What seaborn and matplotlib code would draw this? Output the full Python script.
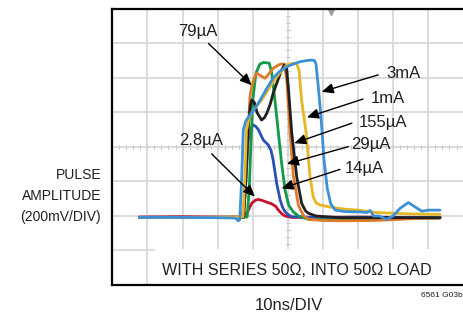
"""
Pulse response at several supply currents, drawn as a scope capture
(10 divisions wide, 8 high) with seaborn line plots.
"""

import matplotlib
matplotlib.use("Agg")
import matplotlib.pyplot as plt
from matplotlib.patches import Rectangle
import numpy as np
import pandas as pd
import seaborn as sns

# ---- data (scope divisions) ----
red_x = [0.77, 2.0, 3.0, 3.72, 3.85, 3.97, 4.08, 4.16, 4.27, 4.35, 4.54, 4.65, 4.73, 4.83, 4.92, 5.1, 6.0, 7.0, 8.0, 9.33]
red_y = [1.97, 1.98, 1.97, 1.97, 2.12, 2.37, 2.46, 2.48, 2.45, 2.42, 2.35, 2.28, 2.17, 2.06, 2.0, 1.96, 1.96, 1.97, 1.96, 1.96]

blue_x = [0.77, 2.0, 3.0, 3.7, 3.78, 3.87, 3.95, 4.01, 4.08, 4.16, 4.3, 4.44, 4.52, 4.58, 4.68, 4.78, 4.85, 4.92, 5.02, 5.1, 6.0, 7.0, 8.0, 9.33]
blue_y = [1.96, 1.96, 1.96, 1.96, 2.6, 4.2, 4.55, 4.64, 4.6, 4.5, 4.2, 4.06, 3.9, 3.62, 2.95, 2.46, 2.25, 2.12, 2.03, 1.98, 1.95, 1.96, 1.95, 1.96]

green_x = [0.77, 2.0, 3.0, 3.84, 3.9, 3.94, 4.0, 4.09, 4.2, 4.3, 4.47, 4.54, 4.63, 4.73, 4.82, 4.92, 5.02, 5.15, 5.3, 5.6, 6.5, 7.5, 8.5, 9.33]
green_y = [1.96, 1.96, 1.96, 1.97, 2.8, 3.91, 5.36, 6.14, 6.4, 6.45, 6.43, 6.14, 5.36, 4.40, 3.53, 2.75, 2.32, 2.12, 2.0, 1.9, 1.88, 1.9, 1.93, 1.94]

orange_x = [0.77, 2.0, 3.0, 3.74, 3.82, 3.92, 3.97, 4.04, 4.11, 4.2, 4.35, 4.47, 4.58, 4.7, 4.82, 4.9, 4.97, 5.05, 5.15, 5.3, 5.45, 5.6, 6.0, 6.5, 7.5, 8.5, 9.33]
orange_y = [1.96, 1.96, 1.96, 1.97, 3.5, 5.46, 5.75, 6.0, 6.14, 6.08, 5.99, 6.14, 6.28, 6.36, 6.41, 6.4, 5.9, 4.6, 3.2, 2.3, 2.0, 1.9, 1.87, 1.86, 1.87, 1.92, 1.94]

black_x = [0.77, 2.0, 3.0, 3.74, 3.8, 3.87, 3.93, 3.97, 4.04, 4.12, 4.25, 4.33, 4.4, 4.5, 4.58, 4.7, 4.82, 4.9, 4.96, 5.01, 5.11, 5.25, 5.39, 5.5, 5.58, 5.8, 6.5, 7.5, 8.5, 9.33]
black_y = [1.96, 1.96, 1.96, 1.96, 3.0, 4.59, 5.2, 5.36, 5.3, 5.0, 4.78, 4.85, 4.98, 5.25, 5.56, 5.9, 6.23, 6.38, 6.3, 5.75, 4.4, 3.14, 2.37, 2.15, 2.08, 2.0, 1.95, 1.95, 1.95, 1.95]

yellow_x = [0.77, 2.0, 3.0, 3.72, 3.77, 3.82, 3.9, 4.01, 4.12, 4.25, 4.4, 4.58, 4.75, 4.97, 5.1, 5.25, 5.32, 5.39, 5.52, 5.63, 5.72, 5.8, 5.91, 6.19, 6.6, 7.0, 7.5, 8.0, 8.5, 9.0, 9.33]
yellow_y = [1.96, 1.96, 1.96, 1.97, 3.0, 4.49, 4.85, 5.07, 5.2, 5.36, 5.6, 5.89, 6.12, 6.38, 6.42, 6.43, 6.2, 5.36, 4.40, 3.14, 2.56, 2.38, 2.32, 2.26, 2.2, 2.17, 2.1, 2.08, 2.06, 2.05, 2.05]

ltblue_x = [0.77, 2.0, 3.0, 3.5, 3.59, 3.63, 3.68, 3.73, 3.8, 3.92, 4.05, 4.21, 4.4, 4.58, 4.75, 4.97, 5.15, 5.34, 5.5, 5.68, 5.76, 5.8, 5.86, 5.94, 6.03, 6.12, 6.22, 6.35, 6.6, 6.9, 7.05, 7.25, 7.34, 7.44, 7.6, 7.81, 7.99, 8.19, 8.43, 8.61, 8.81, 9.0, 9.33]
ltblue_y = [1.96, 1.96, 1.95, 1.94, 1.86, 1.9, 3.0, 4.49, 4.75, 4.93, 5.1, 5.36, 5.7, 6.0, 6.18, 6.33, 6.4, 6.47, 6.5, 6.52, 6.5, 6.4, 5.8, 4.9, 3.6, 2.8, 2.35, 2.17, 2.13, 2.12, 2.12, 2.1, 2.16, 2.0, 2.0, 1.9, 2.0, 2.22, 2.39, 2.27, 2.14, 2.17, 2.17]

# draw order: first is at the bottom
traces = ["2.8µA", "14µA", "29µA", "79µA", "155µA", "1mA", "3mA"]
trace_x = [red_x, blue_x, green_x, orange_x, black_x, yellow_x, ltblue_x]
trace_y = [red_y, blue_y, green_y, orange_y, black_y, yellow_y, ltblue_y]
trace_colors = ["#c8102e", "#2a4fb5", "#109a4a", "#e07a28", "#231f20", "#e6b722", "#3d8fd8"]

# label text position, arrow tail, arrow head (divisions)
label_pos = {
    "79µA": (2.44, 7.36, 2.74, 7.0, 3.97, 5.79),
    "3mA": (8.28, 6.12, 7.57, 6.09, 5.96, 5.6),
    "1mA": (7.85, 5.42, 7.14, 5.39, 5.54, 4.86),
    "155µA": (7.71, 4.72, 6.82, 4.69, 5.18, 4.11),
    "29µA": (7.37, 4.06, 6.72, 4.01, 4.97, 3.51),
    "14µA": (7.17, 3.38, 6.48, 3.35, 4.82, 2.80),
    "2.8µA": (2.53, 4.19, 2.83, 3.8, 4.06, 2.56),
}
TRIGGER_X = 6.24

frames = []
for name, xs, ys in zip(traces, trace_x, trace_y):
    frames.append(pd.DataFrame({"t": xs, "v": ys, "trace": name}))
df = pd.concat(frames, ignore_index=True)

sns.set_style("white")
plt.rcParams['font.family'] = ['Liberation Sans', 'DejaVu Sans']
TXT = "#231f20"

fig = plt.figure(figsize=(4.64, 3.2), dpi=100)
ax = fig.add_axes([0.242, 0.1094, 0.757, 0.8625])
ax.set_xlim(0, 10)
ax.set_ylim(0, 8)

# graticule
for gx in range(0, 11):
    ax.axvline(gx, color="#d6d6d6", lw=1.2, zorder=0.5)
for gy in range(0, 9):
    ax.axhline(gy, color="#d6d6d6", lw=1.2, zorder=0.5)
for mx in np.arange(0, 10.01, 0.2):
    ax.plot([mx, mx], [3.93, 4.07], color="#cccccc", lw=0.8, zorder=0.6)
for my in np.arange(0, 8.01, 0.2):
    ax.plot([4.95, 5.05], [my, my], color="#cccccc", lw=0.8, zorder=0.6)

# white strip behind the bottom caption
ax.add_patch(Rectangle((1.22, 0), 8.78, 1.03, facecolor="white", edgecolor="none", zorder=1))

sns.lineplot(data=df, x="t", y="v", hue="trace", hue_order=traces,
             palette=trace_colors, sort=False, estimator=None,
             lw=2.0, legend=False, ax=ax, zorder=2)

ax.plot([TRIGGER_X], [7.92], marker="v", color="#a0a0a0", ms=5, zorder=3, clip_on=False)

for name, (tx, ty, ax0, ay0, ax1, ay1) in label_pos.items():
    ax.text(tx, ty, name, fontsize=12, color=TXT, ha="center", va="center", zorder=4)
    ax.annotate("", xy=(ax1, ay1), xytext=(ax0, ay0),
                arrowprops=dict(arrowstyle="-|>,head_length=0.5,head_width=0.22",
                                color="black", lw=1.0, mutation_scale=14,
                                shrinkA=0, shrinkB=0), zorder=4)

ax.text(5.25, 0.41, "WITH SERIES 50Ω, INTO 50Ω LOAD", fontsize=11.6, color=TXT,
        ha="center", va="center", zorder=4)

ax.set_xticks(range(0, 11))
ax.set_yticks(range(0, 9))
ax.set_xticklabels([])
ax.set_yticklabels([])
ax.tick_params(axis="both", direction="in", length=3, color="#c8c8c8", width=0.9)
ax.set_xlabel("")
ax.set_ylabel("")
for side in ["left", "top", "bottom"]:
    ax.spines[side].set_color("black")
    ax.spines[side].set_linewidth(1.6)
    ax.spines[side].set_zorder(5)
ax.spines["right"].set_visible(False)

fig.text(0.218, 0.3875, "PULSE\nAMPLITUDE\n(200mV/DIV)", fontsize=10, color=TXT,
         ha="right", va="center", multialignment="right", linespacing=1.6)
fig.text(0.623, 0.045, "10ns/DIV", fontsize=12, color=TXT, ha="center", va="center")
fig.text(0.997, 0.0775, "6561 G03b", fontsize=6, color=TXT, ha="right", va="center")

fig.savefig("out.png", dpi=100)
